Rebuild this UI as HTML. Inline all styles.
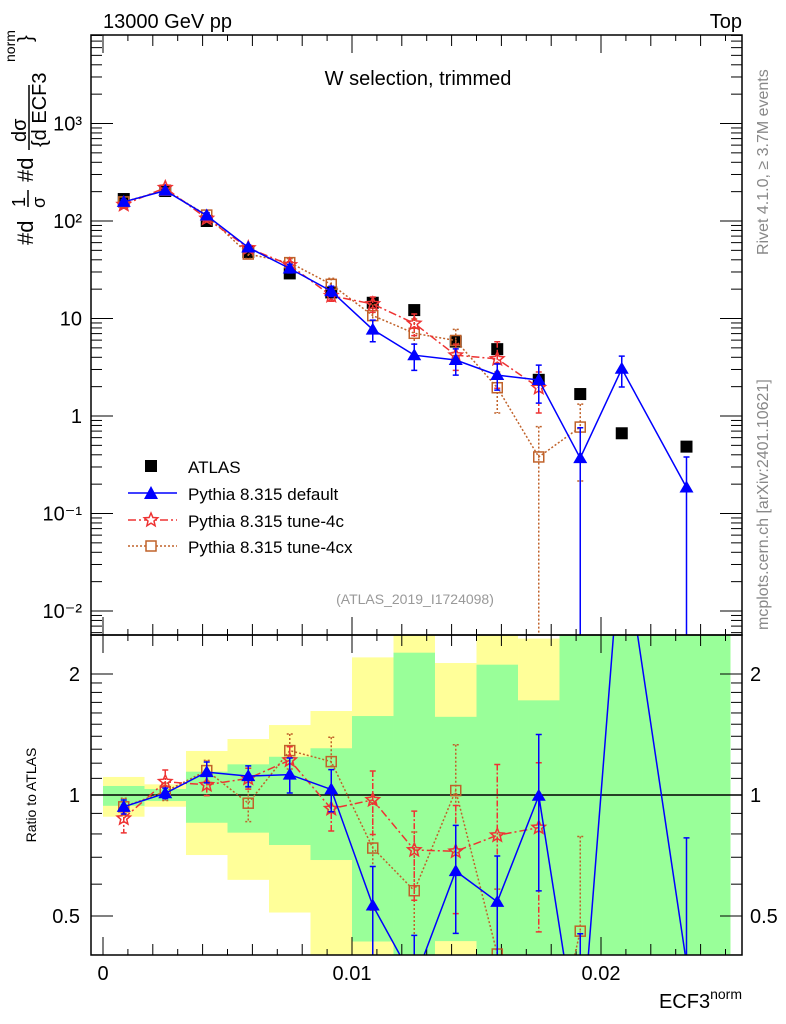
<!DOCTYPE html>
<html><head><meta charset="utf-8"><style>
html,body{margin:0;background:#fff;overflow:hidden;width:786px;height:1024px;}
svg{display:block;font-family:"Liberation Sans",sans-serif;}
</style></head><body>
<svg id="c" width="786" height="1024" viewBox="0 0 786 1024">
<defs>
<clipPath id="cm"><rect x="91" y="35" width="651" height="600"/></clipPath>
<clipPath id="cr"><rect x="91" y="635" width="651" height="320"/></clipPath>
</defs>
<g id="bands" clip-path="url(#cr)"></g>
<g id="grid"></g>
<g id="marks"></g>
<rect x="91" y="35" width="651" height="600" fill="none" stroke="#000" stroke-width="1.5"/>
<rect x="91" y="635" width="651" height="320" fill="none" stroke="#000" stroke-width="1.5"/>
<text x="103" y="28" font-size="20">13000 GeV pp</text>
<text x="742" y="28" font-size="20" text-anchor="end">Top</text>
<text x="418" y="85" font-size="20" text-anchor="middle">W selection, trimmed</text>
<text x="415" y="604" font-size="14" fill="#999" text-anchor="middle">(ATLAS_2019_I1724098)</text>
<text transform="translate(768,255) rotate(-90)" font-size="16" fill="#888">Rivet 4.1.0, ≥ 3.7M events</text>
<text transform="translate(768,630) rotate(-90)" font-size="16" fill="#888">mcplots.cern.ch [arXiv:2401.10621]</text>
<g font-size="22">
<text transform="translate(33,245) rotate(-90)">#d</text>
<text transform="translate(25,207) rotate(-90)" font-size="18">1</text>
<line x1="28" y1="190" x2="28" y2="207" stroke="#000" stroke-width="1.5"/>
<text transform="translate(45,208) rotate(-90)" font-size="18">σ</text>
<text transform="translate(33,182) rotate(-90)">#d</text>
<text transform="translate(26,142) rotate(-90)" font-size="20">dσ</text>
<line x1="29" y1="150" x2="29" y2="85" stroke="#000" stroke-width="1.5"/>
<text transform="translate(46,147) rotate(-90)" font-size="20">{d ECF3</text>
<text transform="translate(15,62) rotate(-90)" font-size="14">norm</text>
<text transform="translate(32,42) rotate(-90)" font-size="20">}</text>
</g>
<text transform="translate(36,795) rotate(-90)" font-size="14" text-anchor="middle">Ratio to ATLAS</text>
<text x="742" y="1008" font-size="20" text-anchor="end">ECF3<tspan font-size="14" dy="-9">norm</tspan></text>
<g font-size="17">
<g><rect x="145" y="460" width="12" height="12" fill="#000"/><text x="188" y="473">ATLAS</text></g>
<g><line x1="128" y1="493" x2="177" y2="493" stroke="#0000ff" stroke-width="1.5"/><path d="M151,486 L158,499 L144,499Z" fill="#0000ff"/><text x="188" y="500">Pythia 8.315 default</text></g>
<g><line x1="128" y1="520" x2="177" y2="520" stroke="#ee3333" stroke-width="1.5" stroke-dasharray="8,3,2,3"/><path id="lstar" fill="#fff" stroke="#ee3333" stroke-width="1.5"/><text x="188" y="527">Pythia 8.315 tune-4c</text></g>
<g><line x1="128" y1="546" x2="177" y2="546" stroke="#c0622a" stroke-width="1.5" stroke-dasharray="2,2"/><rect x="146" y="541" width="10" height="10" fill="#fff" stroke="#c0622a" stroke-width="1.5"/><text x="188" y="553">Pythia 8.315 tune-4cx</text></g>
</g>
</svg>
<script>
const edges=[0,0.001667,0.003333,0.005,0.006667,0.008333,0.01,0.011667,0.013333,0.015,0.016667,0.018333,0.02,0.021667,0.0252];
const atlas=[168,203,100,48,29,18.5,14.5,12.2,5.8,4.85,2.35,1.68,0.665,0.485];
const pyDefault=[157,205,114,53.5,32.6,19.1,7.7,4.2,3.75,2.63,2.34,0.37,3.05,0.185];
const pyDefaultErr=[0.04,0.03,0.06,0.06,0.1,0.12,0.25,0.3,0.3,0.3,0.42,1.05,0.35,1.05];
const py4c=[147,219,106,52.8,35.4,17.1,14.1,8.9,4.2,3.85,1.95];
const py4cErr=[0.08,0.07,0.06,0.06,0.08,0.12,0.18,0.25,0.3,0.5,0.45];
const py4cx=[157,207,115,45.8,37.4,22.4,10.7,7.05,5.95,1.95,0.38,0.77];
const py4cxErr=[0.05,0.05,0.06,0.1,0.1,0.15,0.3,0.4,0.3,0.45,1.05,0.72];
const bandGreenHi=[1.053,1.035,1.143,1.192,1.245,1.307,1.572,2.26,1.565,2.11,1.72,3,3,3];
const bandGreenLo=[0.94,0.966,0.853,0.806,0.751,0.689,0.432,0.3,0.433,0.3,0.3,0.3,0.3,0.3];
const bandYellowHi=[1.109,1.063,1.287,1.378,1.493,1.618,2.2,3,2.13,3,2.45,1.9,1.87,3];
const bandYellowLo=[0.883,0.935,0.709,0.615,0.51,0.3,0.3,0.3,0.3,0.3,0.3,0.3,0.3,0.3];
const mainTicks=["10³","10²","10","1","10⁻¹","10⁻²"];
const mainTickVals=[1000,100,10,1,0.1,0.01];
const ratioTickVals=[0.5,1,2];
const xTickVals=[0,0.01,0.02];
const xTickLabels=["0","0.01","0.02"];

const NS="http://www.w3.org/2000/svg";
const xs=v=>103+v*24900;
const ym=v=>416-97.5*Math.log10(v);
const yr=r=>795-401.9*Math.log10(r);
function mk(tag,attrs,parent){const e=document.createElementNS(NS,tag);for(const k in attrs)e.setAttribute(k,attrs[k]);parent.appendChild(e);return e;}
const centers=atlas.map((_,i)=>(edges[i]+edges[i+1])/2);
function starPath(cx,cy,R){let d="";for(let k=0;k<10;k++){const r=k%2?R*0.45:R;const a=-Math.PI/2+k*Math.PI/5;d+=(k?"L":"M")+(cx+r*Math.cos(a)).toFixed(1)+","+(cy+r*Math.sin(a)).toFixed(1);}return d+"Z";}
document.getElementById('lstar').setAttribute('d',starPath(151,520,7));

const bands=document.getElementById('bands');
function clampR(r){return Math.min(Math.max(r,0.3),3);}
atlas.forEach((_,i)=>{
  const x0=xs(edges[i]),x1=xs(edges[i+1]);
  const y=mk('rect',{x:x0,y:yr(clampR(bandYellowHi[i])),width:x1-x0,height:yr(clampR(bandYellowLo[i]))-yr(clampR(bandYellowHi[i])),fill:'#ffff99'},bands);
  
  
  const g=mk('rect',{x:x0,y:yr(clampR(bandGreenHi[i])),width:x1-x0,height:yr(clampR(bandGreenLo[i]))-yr(clampR(bandGreenHi[i])),fill:'#99ff99'},bands);
  
  
});

const grid=document.getElementById('grid');
mk('line',{x1:91,y1:795,x2:742,y2:795,stroke:'#000','stroke-width':1.5},grid);
for(let d=-3;d<=3;d++){for(let m=1;m<10;m++){const v=m*Math.pow(10,d);const y=ym(v);if(y<35||y>635)continue;const L=m===1?22:11;
  mk('line',{x1:91,y1:y,x2:91+L,y2:y,stroke:'#000'},grid);mk('line',{x1:742,y1:y,x2:742-L,y2:y,stroke:'#000'},grid);}}
mainTickVals.forEach((v,i)=>{const t=mk('text',{x:82,y:ym(v)+7,'font-size':20,'text-anchor':'end'},grid);t.textContent=mainTicks[i];
  
  });
for(let r=0.4;r<=2.51;r+=0.1){const rr=Math.round(r*10)/10;if(rr>2&&Math.round(rr*10)%5!==0)continue;const y=yr(rr);if(y<635||y>955)continue;const maj=ratioTickVals.includes(rr);const L=maj?22:11;
  mk('line',{x1:91,y1:y,x2:91+L,y2:y,stroke:'#000'},grid);mk('line',{x1:742,y1:y,x2:742-L,y2:y,stroke:'#000'},grid);}
ratioTickVals.forEach(v=>{const a=mk('text',{x:80,y:yr(v)+7,'font-size':20,'text-anchor':'end'},grid);a.textContent=String(v);
  
  
  const b=mk('text',{x:750,y:yr(v)+7,'font-size':20},grid);b.textContent=String(v);
  
  });
for(let k=0;k<=25;k++){const x=xs(k*0.001);const L=k%10===0?18:(k%2===0?11:6);
  [[955,-1],[635,1],[635,-1],[35,1]].forEach(([y0,s])=>mk('line',{x1:x,y1:y0,x2:x,y2:y0+s*L,stroke:'#000'},grid));}
xTickVals.forEach((v,i)=>{const t=mk('text',{x:xs(v),y:980,'font-size':20,'text-anchor':'middle'},grid);t.textContent=xTickLabels[i];
  
  });

const marks=document.getElementById('marks');
const gm=mk('g',{'clip-path':'url(#cm)'},marks);
const gr=mk('g',{'clip-path':'url(#cr)'},marks);
function drawSeries(vals,errs,color,dash,marker,name){
  [[gm,ym,0,640],[gr,yr,1,960]].forEach(([g,yf,pi,bot])=>{
    const val=i=>pi===0?vals[i]:vals[i]/atlas[i];
    let d="";vals.forEach((v,i)=>{d+=(i?"L":"M")+xs(centers[i]).toFixed(1)+","+yf(val(i)).toFixed(1);});
    const ln=mk('path',{d:d,fill:'none',stroke:color,'stroke-width':1.5,'stroke-dasharray':dash},g);
    
    
    vals.forEach((v,i)=>{const x=xs(centers[i]);const c=val(i);const hi=yf(c*(1+errs[i]));const lo=c*(1-errs[i])>0?Math.min(yf(c*(1-errs[i])),bot):bot;
      const eb=mk('path',{d:`M${x},${hi}L${x},${lo}M${x-3},${hi}L${x+3},${hi}M${x-3},${lo}L${x+3},${lo}`,stroke:color,'stroke-width':1.5,fill:'none','stroke-dasharray':dash==='none'?'none':(dash==='2,2'?'2,2':'6,2,2,2')},g);
      
      
      const y=yf(c);let m;
      if(marker==='tri')m=mk('path',{d:`M${x},${y-7}L${x+7},${y+5}L${x-7},${y+5}Z`,fill:color},g);
      else if(marker==='star')m=mk('path',{d:starPath(x,y,7),fill:'none',stroke:color,'stroke-width':1.5},g);
      else m=mk('rect',{x:x-5,y:y-5,width:10,height:10,fill:'none',stroke:color,'stroke-width':1.5},g);
      
      });
  });
}
atlas.forEach((v,i)=>{const r=mk('rect',{x:xs(centers[i])-6,y:ym(v)-6,width:12,height:12,fill:'#000'},gm);
  
  });
drawSeries(py4cx,py4cxErr,'#c0622a','2,2','sq','tune-4cx');
drawSeries(py4c,py4cErr,'#ee3333','8,3,2,3','star','tune-4c');
drawSeries(pyDefault,pyDefaultErr,'#0000ff','none','tri','default');
</script>
</body></html>
